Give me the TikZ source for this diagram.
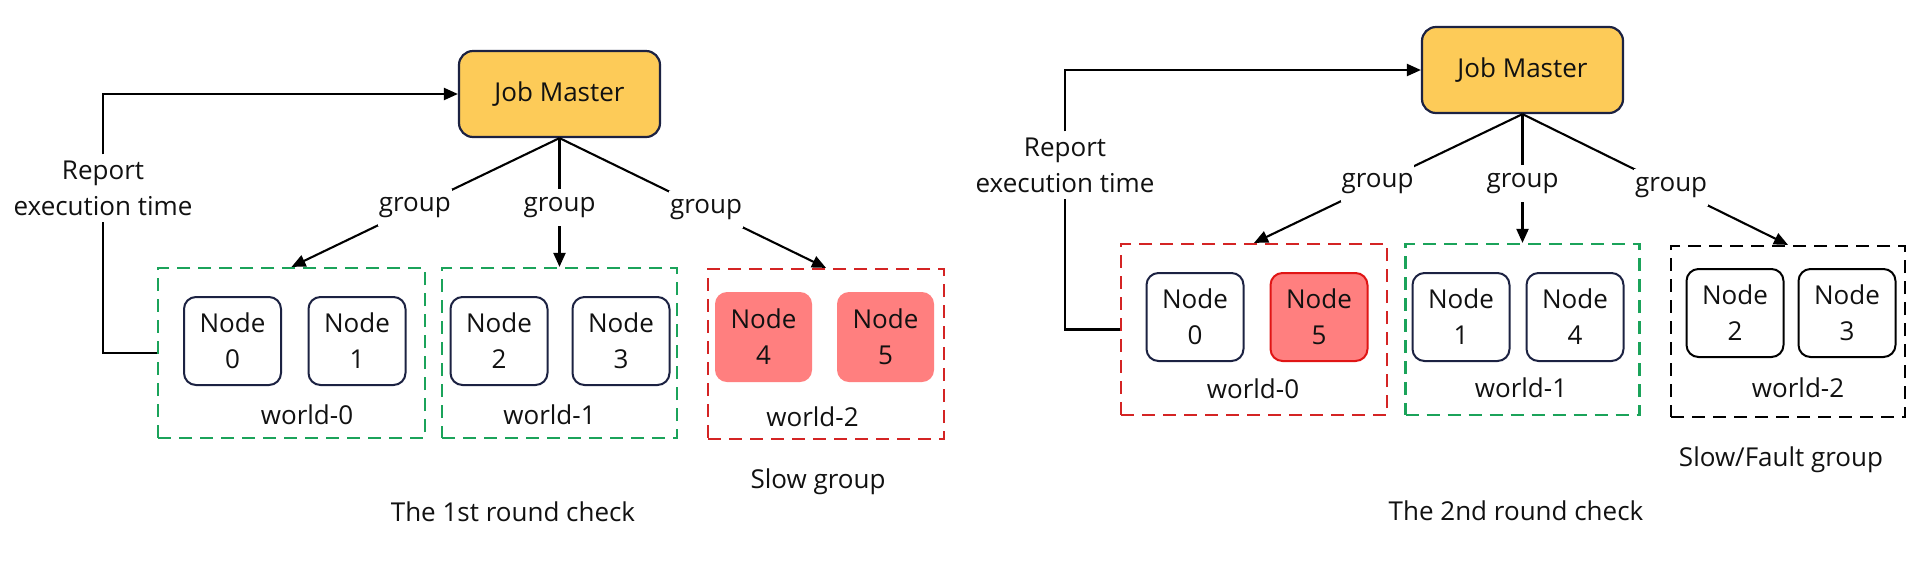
\documentclass[tikz,border=0pt]{standalone}
\usepackage{fontspec}
\setmainfont{Open Sans}
\usetikzlibrary{arrows.meta}
\definecolor{jmfill}{HTML}{FDCB58}
\definecolor{navy}{HTML}{1C2242}
\definecolor{salmon}{HTML}{FF7F7F}
\definecolor{nodered}{HTML}{E01515}
\definecolor{dashred}{HTML}{D42424}
\definecolor{dashgreen}{HTML}{1BA35A}
\definecolor{txt}{HTML}{111111}
\begin{document}
\begin{tikzpicture}[x=1pt,y=-1pt,
  every node/.style={text=txt, font=\fontsize{26}{36}\selectfont},
  master/.style={draw=navy, fill=jmfill, line width=2.2pt, rounded corners=14pt,
    minimum width=201pt, minimum height=86pt, inner sep=0pt},
  worker/.style={draw=navy, fill=white, line width=2pt, rounded corners=12pt,
    minimum width=97pt, minimum height=88pt, inner sep=0pt, align=center},
  slownode/.style={fill=salmon, rounded corners=12pt,
    minimum width=97pt, minimum height=90pt, inner sep=0pt, align=center},
  world/.style={draw=#1, line width=2.2pt, dash pattern=on 13pt off 8pt, inner sep=0pt},
  glabel/.style={fill=white, inner xsep=1pt, inner ysep=8.5pt, text height=14pt, text depth=6pt},
  conn/.style={draw=black, line width=2.1pt},
  arr/.style={-{Triangle[length=14pt,width=12pt]}}
]
\path[fill=white] (0,0) rectangle (1932,566);
\useasboundingbox (0,0) rectangle (1932,566);

% ---------------- left: 1st round ----------------
\node[master] (jmA) at (559.5,94) {Job Master};
\node[world=dashgreen, minimum width=267pt, minimum height=170pt] (wA0) at (291.5,353) {};
\node[world=dashgreen, minimum width=235pt, minimum height=170pt] (wA1) at (559.5,353) {};
\node[world=dashred, minimum width=236pt, minimum height=170pt] (wA2) at (826,354) {};

\node[worker] (nA0) at (232.5,341) {Node\\0};
\node[worker] (nA1) at (357,341) {Node\\1};
\node[worker] (nA2) at (499,341) {Node\\2};
\node[worker] (nA3) at (621,341) {Node\\3};
\node[slownode] (nA4) at (763.5,337) {Node\\4};
\node[slownode] (nA5) at (885.5,337) {Node\\5};

\node (lA0) at (307,415) {world-0};
\node (lA1) at (549.5,415) {world-1};
\node (lA2) at (812.5,417) {world-2};
\node (sA) at (818,482) {Slow group};
\node (tA) at (513,512) {The 1st round check};

\node[inner sep=6pt, align=center] (rA) at (103,188) {Report\\execution time};
\draw[conn] (wA0.west) -| (rA.south);
\draw[conn,arr] (rA.north) |- (jmA.west);

\draw[conn,arr] (jmA.south) -- node[glabel,pos=0.54] (gA0) {group} (wA0.north);
\draw[conn,arr] (jmA.south) -- node[glabel,pos=0.54] (gA1) {group} (wA1.north);
\draw[conn,arr] (jmA.south) -- node[glabel,pos=0.55] (gA2) {group} (wA2.north);

% ---------------- right: 2nd round ----------------
\node[master] (jmB) at (1522.5,70) {Job Master};
\node[world=dashred, minimum width=266pt, minimum height=171pt] (wB0) at (1254,329.5) {};
\node[world=dashgreen, minimum width=234pt, minimum height=171pt] (wB1) at (1522.5,329.5) {};
\node[world=black, minimum width=234pt, minimum height=171pt] (wB2) at (1788,331.5) {};

\node[worker] (nB0) at (1195,317) {Node\\0};
\node[worker, fill=salmon, draw=nodered] (nB5) at (1319,317) {Node\\5};
\node[worker] (nB1) at (1461,317) {Node\\1};
\node[worker] (nB4) at (1575,317) {Node\\4};
\node[worker, draw=black] (nB2) at (1735,313) {Node\\2};
\node[worker, draw=black] (nB3) at (1847,313) {Node\\3};

\node (lB0) at (1253,389) {world-0};
\node (lB1) at (1521,388) {world-1};
\node (lB2) at (1798,388) {world-2};
\node (sB) at (1781,460) {Slow/Fault group};
\node (tB) at (1516,511) {The 2nd round check};

\node[inner sep=6pt, align=center] (rB) at (1065,165) {Report\\execution time};
\draw[conn] (wB0.west) -| (rB.south);
\draw[conn,arr] (rB.north) |- (jmB.west);

\draw[conn,arr] (jmB.south) -- node[glabel,pos=0.54] (gB0) {group} (wB0.north);
\draw[conn,arr] (jmB.south) -- node[glabel,pos=0.54] (gB1) {group} (wB1.north);
\draw[conn,arr] (jmB.south) -- node[glabel,pos=0.56] (gB2) {group} (wB2.north);
\end{tikzpicture}
\end{document}
